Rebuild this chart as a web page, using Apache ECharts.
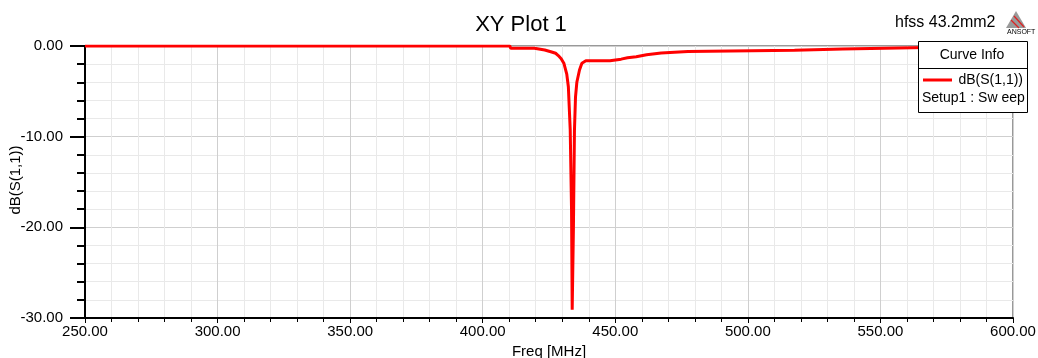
<!DOCTYPE html>
<html>
<head>
<meta charset="utf-8">
<script src="https://cdn.jsdelivr.net/npm/echarts@6/dist/echarts.min.js"></script>
<style>
  body { margin: 0; background: #fff; }
  #xyplot { width: 1038px; height: 358px; }
</style>
</head>
<body>
<div id="xyplot"></div>
<script>
// S11 sweep
var freqMHz = [250, 300, 350, 400, 410.2, 410.6, 419.5, 419.9, 423.4, 423.8, 426, 427.5, 428.5, 429.6,
               430.6, 431.7, 432.3, 433.0, 433.5, 433.75, 434.2, 434.6, 435.0, 435.5, 436.5, 437.4,
               438.9, 448.0, 448.6, 452.2, 452.6, 454.6, 455.0, 457.9, 458.3, 461.8, 462.2, 467.3,
               467.7, 477.4, 477.8, 517.6, 518.0, 535.8, 536.2, 562.0, 562.6, 600];
var s11dB =   [0, 0, 0, 0, 0, -0.25, -0.25, -0.44, -0.44, -0.62, -0.66, -0.8, -1.05, -1.4,
               -1.9, -3.1, -4.5, -9.2, -18, -29.1, -20.3, -9.3, -5.6, -4.0, -2.65, -1.9,
               -1.63, -1.63, -1.47, -1.45, -1.32, -1.3, -1.2, -1.18, -0.99, -0.97, -0.8, -0.78,
               -0.64, -0.62, -0.5, -0.48, -0.36, -0.34, -0.2, -0.18, 0, 0];
var xTicks = [250, 300, 350, 400, 450, 500, 550, 600];
var yTicks = [-30, -20, -10, 0];

var points = [];
for (var i = 0; i < freqMHz.length; i++) {
    points.push([freqMHz[i], s11dB[i]]);
}

var chartDom = document.getElementById('xyplot');
var myChart = echarts.init(chartDom, null, {renderer: 'canvas'});
var font = 'Liberation Sans, Arial, sans-serif';

var option = {
    animation: false,
    backgroundColor: '#fff',
    textStyle: {fontFamily: font},
    title: {
        text: 'XY Plot 1',
        left: 516,
        top: 9,
        textAlign: 'center',
        textStyle: {fontSize: 22, fontWeight: 'normal', color: '#000', fontFamily: font}
    },
    grid: {
        left: 85, right: 25, top: 46, bottom: 40,
        containLabel: false,
        outerBoundsMode: 'none',
        show: true, borderColor: '#333', borderWidth: 1
    },
    xAxis: {
        type: 'value',
        min: xTicks[0],
        max: xTicks[xTicks.length - 1],
        interval: 50,
        name: 'Freq [MHz]',
        nameLocation: 'middle',
        nameGap: 26,
        nameTextStyle: {fontSize: 15, color: '#000'},
        axisLine: {onZero: false, lineStyle: {color: '#000', width: 2}},
        axisTick: {length: 5, lineStyle: {color: '#000'}},
        minorTick: {show: true, splitNumber: 5, length: 4, lineStyle: {color: '#000'}},
        axisLabel: {fontSize: 15, color: '#000', margin: 6,
            formatter: function (v) { return v.toFixed(2); }},
        splitLine: {lineStyle: {color: '#cfcfcf', width: 1}},
        minorSplitLine: {show: true, lineStyle: {color: '#e9e9e9', width: 1}}
    },
    yAxis: {
        type: 'value',
        min: yTicks[0],
        max: yTicks[yTicks.length - 1],
        interval: 10,
        axisLine: {onZero: false, lineStyle: {color: '#000', width: 2}},
        axisTick: {length: 15, lineStyle: {color: '#000', width: 2}},
        minorTick: {show: true, splitNumber: 5, length: 8, lineStyle: {color: '#000', width: 2}},
        axisLabel: {fontSize: 15, color: '#000', margin: 22,
            formatter: function (v) { return v.toFixed(2); }},
        splitLine: {lineStyle: {color: '#cfcfcf', width: 1}},
        minorSplitLine: {show: true, lineStyle: {color: '#e9e9e9', width: 1}}
    },
    series: [
        {
            name: 'dB(S(1,1))',
            type: 'line',
            data: points,
            showSymbol: false,
            lineStyle: {color: '#ff0000', width: 3},
            z: 5
        }
    ],
    graphic: [
        // y axis name
        {type: 'text', x: 16, y: 180, rotation: Math.PI / 2,
            style: {text: 'dB(S(1,1))', fontSize: 15, fill: '#000', align: 'center',
                verticalAlign: 'middle', fontFamily: font}},
        {type: 'text', left: 895, top: 15,
            style: {text: 'hfss 43.2mm2', fontSize: 16, fill: '#000', fontFamily: font}},
        // Ansoft logo
        {type: 'polygon', shape: {points: [[1016, 11], [1006, 28], [1026, 28]]},
            style: {fill: '#9a9a9a'}},
        {type: 'polyline', shape: {points: [[1011, 20], [1019, 28]]},
            style: {stroke: '#d22', lineWidth: 1.3}},
        {type: 'polyline', shape: {points: [[1014, 16], [1024, 27]]},
            style: {stroke: '#d22', lineWidth: 1.3}},
        {type: 'text', left: 1007, top: 29,
            style: {text: 'ANSOFT', fontSize: 7, fill: '#000', fontFamily: font}},
        // curve info box
        {type: 'rect', shape: {x: 918.5, y: 41.5, width: 109, height: 71},
            style: {fill: '#fff', stroke: '#000', lineWidth: 1}, z: 10},
        {type: 'line', shape: {x1: 918.5, y1: 68.5, x2: 1027.5, y2: 68.5},
            style: {stroke: '#000', lineWidth: 1}, z: 11},
        {type: 'text', x: 972, y: 55, z: 11,
            style: {text: 'Curve Info', fontSize: 14, fill: '#000', align: 'center',
                verticalAlign: 'middle', fontFamily: font}},
        {type: 'line', shape: {x1: 923, y1: 80, x2: 952, y2: 80},
            style: {stroke: '#ff0000', lineWidth: 3}, z: 11},
        {type: 'text', x: 1023, y: 80, z: 11,
            style: {text: 'dB(S(1,1))', fontSize: 14, fill: '#000', align: 'right',
                verticalAlign: 'middle', fontFamily: font}},
        {type: 'text', x: 922, y: 98, z: 11,
            style: {text: 'Setup1 : Sw eep', fontSize: 14, fill: '#000', align: 'left',
                verticalAlign: 'middle', fontFamily: font}}
    ]
};

option && myChart.setOption(option);
</script>
</body>
</html>
